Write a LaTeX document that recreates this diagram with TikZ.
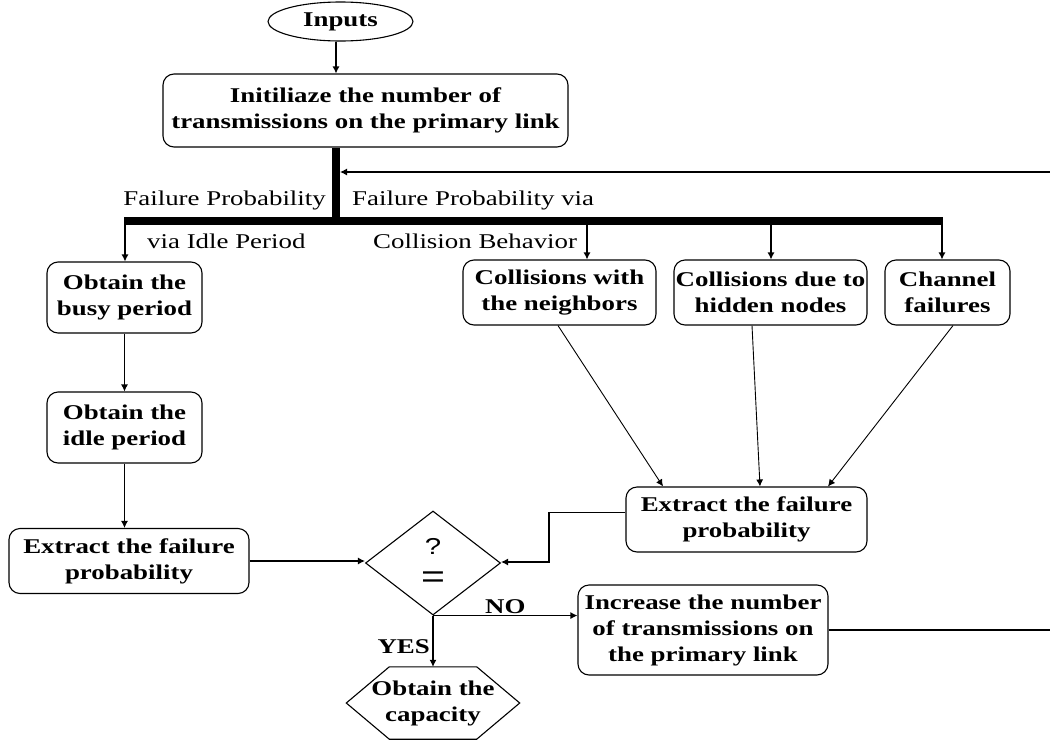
\documentclass[tikz,border=0pt]{standalone}
\usepackage{fontspec}
\setmainfont{Liberation Serif}[FakeStretch=1.28]
\newfontfamily\sanf{Liberation Sans}[FakeStretch=1.28]
\usetikzlibrary{arrows.meta,shapes.geometric,calc}
\begin{document}
\begin{tikzpicture}[x=1pt,y=-1pt,
  box/.style={draw, rounded corners=11pt, line width=1.1pt, align=center, inner sep=1pt,
              font=\fontsize{21}{26}\selectfont\bfseries},
  arr/.style={-{Latex[length=7pt,width=7pt]}, line width=1.1pt},
  ln/.style={line width=1.1pt},
  bar/.style={line width=8pt},
  lbl/.style={inner sep=0pt, font=\fontsize{21}{26}\selectfont},
  blbl/.style={inner sep=0pt, align=center, font=\fontsize{21}{26}\selectfont\bfseries}]
\useasboundingbox (0,0) rectangle (1050,742);

% nodes
\node[draw, ellipse, line width=1.1pt, minimum width=145pt, minimum height=39pt, inner sep=0pt,
      font=\fontsize{21}{26}\selectfont\bfseries] (inputs) at (340.5,21.5) {Inputs};
\node[box, minimum width=405pt, minimum height=73pt] (init) at (365.5,110.5)
  {Initiliaze the number of\\transmissions on the primary link};
\node[box, minimum width=155pt, minimum height=71pt] (busy) at (124.5,297.5) {Obtain the\\busy period};
\node[box, minimum width=155pt, minimum height=71pt] (idle) at (124.5,427.5) {Obtain the\\idle period};
\node[box, minimum width=240pt, minimum height=65pt] (lext) at (129,561) {Extract the failure\\probability};
\node[box, minimum width=193pt, minimum height=65pt] (neigh) at (559.5,292.5) {Collisions with\\the neighbors};
\node[box, minimum width=193pt, minimum height=65pt] (hidden) at (770.5,292.5) {Collisions due to\\hidden nodes};
\node[box, minimum width=125pt, minimum height=65pt] (chan) at (947.5,292.5) {Channel\\failures};
\node[box, minimum width=241pt, minimum height=65pt] (rext) at (746.5,519.5) {Extract the failure\\probability};
\node[box, minimum width=250pt, minimum height=90pt] (inc) at (703,630)
  {Increase the number\\of transmissions on\\the primary link};
\node[draw, diamond, line width=1.1pt, minimum width=135pt, minimum height=104pt, inner sep=0pt] (dec) at (433,563) {};
\node[inner sep=0pt, font=\sanf\fontsize{23}{23}\selectfont] (q) at (433,546) {?};
\node[inner sep=0pt, font=\sanf\fontsize{32}{32}\selectfont] (eq) at (433,580) {=};
\node[blbl, minimum width=173pt, minimum height=72pt] (cap) at (433,703) {Obtain the\\capacity};
\draw[ln] (cap.west) -- ([xshift=43pt]cap.north west) -- ([xshift=-43pt]cap.north east)
  -- (cap.east) -- ([xshift=-43pt]cap.south east) -- ([xshift=43pt]cap.south west) -- cycle;

% labels
\node[lbl, anchor=base east] (fp1) at (326,205) {Failure Probability};
\node[lbl, anchor=base west] (fp2) at (352,205) {Failure Probability via};
\node[lbl, anchor=base west] (vi) at (147,248) {via Idle Period};
\node[lbl, anchor=base west] (cb) at (373,248) {Collision Behavior};
\node[blbl, anchor=base east] (yes) at (430,653) {YES};
\node[blbl, anchor=base west] (no) at (485,613) {NO};

% coordinates
\coordinate (jn) at (336,220.5);
\coordinate (bl) at (124,220.5);
\coordinate (br) at (943,220.5);
\coordinate (d1) at (125,224);
\coordinate (d2) at (587,224);
\coordinate (d3) at (771,224);
\coordinate (d4) at (942,224);
\coordinate (fb) at (1050,172);
\coordinate (rt) at (1050,626);
\coordinate (k) at (549,562);

% connectors
\draw[arr] (inputs.south -| jn) -- (init.north -| jn);
\draw[bar] (init.south -| jn) -- (jn);
\draw[bar] (bl) -- (br);
\draw[arr] (fb) -- ([xshift=4pt]fb -| jn);
\draw[arr] (d1) -- (d1 |- busy.north);
\draw[arr] (d2) -- (d2 |- neigh.north);
\draw[arr] (d3) -- (d3 |- hidden.north);
\draw[arr] (d4) -- (d4 |- chan.north);
\draw[arr] (busy) -- (idle);
\draw[arr] (idle.south) -- (idle.south |- lext.north);
\draw[arr] (lext.east) -- (dec.west |- lext.east);
\draw[arr] ([yshift=7pt]rext.west) -| (k) -- (dec.east |- k);
\draw[arr] (dec.south) -- (cap.north);
\draw[arr] (dec.south) -- (dec.south -| inc.west);
\draw[ln] (inc.east) -- (inc.east -| rt);
\draw[arr, line width=0.9pt] ([xshift=-1.5pt]neigh.south) -- ([xshift=-83.5pt]rext.north);
\draw[arr, line width=0.9pt] ([xshift=-18.5pt]hidden.south) -- ([xshift=13.5pt]rext.north);
\draw[arr, line width=0.9pt] ([xshift=5.5pt]chan.south) -- ([xshift=81.5pt]rext.north);
\end{tikzpicture}
\end{document}
